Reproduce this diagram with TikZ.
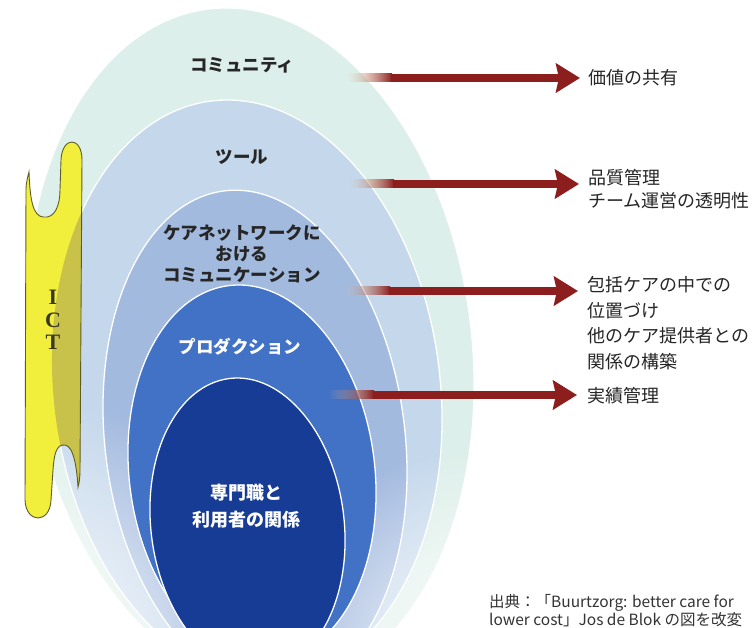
\documentclass[tikz,border=0pt]{standalone}
\usepackage{fontspec}
\newfontfamily\jp{Noto Sans CJK JP}
\newfontfamily\ictf{Liberation Serif}
\usetikzlibrary{arrows.meta,fadings,calc}
\definecolor{eA}{HTML}{DDEFEA}
\definecolor{eB}{HTML}{C4D7EB}
\definecolor{eC}{HTML}{A3BADF}
\definecolor{eD}{HTML}{4272C6}
\definecolor{eE}{HTML}{173C96}
\definecolor{txtdark}{HTML}{262626}
\definecolor{arrowred}{HTML}{8C1E1E}
\definecolor{tailtan}{HTML}{E6C49C}
\definecolor{ictyellow}{HTML}{F2EF3C}
\definecolor{ictolive}{HTML}{C8C24A}
\definecolor{ictline}{HTML}{5E5C28}
\definecolor{icttext}{HTML}{3A3820}
\definecolor{srcgray}{HTML}{333333}
\tikzfading[name=cornerfade, inner color=transparent!0, outer color=transparent!100]
\tikzfading[name=tailfade, left color=transparent!100, right color=transparent!0]
\newcommand{\ictoutline}{(29,172) .. controls (30,200) and (33,216) .. (43,217)
  .. controls (55,219) and (60,205) .. (60,190) -- (61,160)
  .. controls (62,136) and (82,136) .. (82,160) -- (80,470)
  .. controls (80,478) and (79,484) .. (78,487)
  .. controls (77,470) and (74,446) .. (65,445)
  .. controls (56,444) and (54,455) .. (53,470) -- (51,500)
  .. controls (50,524) and (26,524) .. (25,500) -- (26,190)
  .. controls (26,182) and (28,176) .. (29,172) -- cycle}
\begin{document}
\begin{tikzpicture}[x=1pt,y=-1pt,
  ring/.style={draw=white, line width=1.3pt},
  ringlbl/.style={font=\jp\bfseries\fontsize{17.5}{21}\selectfont, text=txtdark, align=center, inner sep=0},
  vlbl/.style={font=\jp\fontsize{18}{23}\selectfont, text=txtdark, align=left, inner sep=0, anchor=west},
  arrowshaft/.style={draw=arrowred, line width=8pt, -{Stealth[length=24pt, width=29pt, inset=3pt]}},
  arrowtail/.style={left color=tailtan, right color=arrowred, path fading=tailfade}
]
\useasboundingbox (0,0) rectangle (753,628);
\clip (0,0) rectangle (753,628);
\fill[white] (0,0) rectangle (753,628);

% nested rings
\fill[eA, ring, rotate around={7:(250,348)}] (250,348) ellipse [x radius=221.8, y radius=341.5];
\fill[eB, ring, rotate around={7:(247,390)}] (247,390) ellipse [x radius=193.2, y radius=291.2];
\fill[eC, ring, rotate around={7:(255,440)}] (255,440) ellipse [x radius=150, y radius=251];
% fades at bottom
\fill[white, path fading=cornerfade] (20,665) circle (270);
\fill[white, path fading=cornerfade] (485,665) circle (220);
\fill[eD, ring, rotate around={7:(252,473)}] (252,473) ellipse [x radius=122.8, y radius=188.8];
\fill[eE, ring, rotate around={7:(247.5,525)}] (247.5,525) ellipse [x radius=96.6, y radius=147.6];

% ICT band
\fill[ictyellow] \ictoutline;
\begin{scope}
  \clip \ictoutline;
  \fill[ictolive, rotate around={7:(247,390)}] (247,390) ellipse [x radius=193.2, y radius=291.2];
\end{scope}
\draw[ictline, line width=0.9pt] \ictoutline;
\node[font=\ictf\bfseries\fontsize{22}{22.5}\selectfont, text=icttext, align=center, inner sep=0] (ict) at (53,320) {I\\C\\T};

% ring labels
\node[ringlbl] (comm) at (242,65) {コミュニティ};
\node[ringlbl] (tool) at (242,157) {ツール};
\node[ringlbl] (care) at (242,254) {ケアネットワークに\\おける\\コミュニケーション};
\node[ringlbl, text=white] (prod) at (240,347) {プロダクション};
\node[ringlbl, text=white, font=\jp\bfseries\fontsize{18}{27}\selectfont] (rel) at (246,506) {専門職と\\利用者の関係};

% value labels
\node[vlbl] (v1) at (588,78) {価値の共有};
\node[vlbl] (v2) at (588,189) {品質管理\\チーム運営の透明性};
\node[vlbl, font=\jp\fontsize{18}{25.5}\selectfont] (v3) at (587,323) {包括ケアの中での\\位置づけ\\他のケア提供者との\\関係の構築};
\node[vlbl] (v4) at (587,396) {実績管理};

% arrows
\coordinate (s1) at (346,78);  \coordinate (t1) at (580,78);
\coordinate (s2) at (348,184); \coordinate (t2) at (579,184);
\coordinate (s3) at (344,291); \coordinate (t3) at (578,291);
\coordinate (s4) at (328,395); \coordinate (t4) at (577,395);
\foreach \i in {1,2,3,4}{
  \shade[arrowtail] ($(s\i)+(0,-4)$) rectangle ($(s\i)+(46,4)$);
  \draw[arrowshaft] ($(s\i)+(45,0)$) -- (t\i);
}

% source
\node[anchor=north west, font=\jp\fontsize{15.5}{18}\selectfont, text=srcgray, align=left, inner sep=0] (src) at (489,594) {出典：「Buurtzorg: better care for\\lower cost」Jos de Blok の図を改変};
\end{tikzpicture}
\end{document}
